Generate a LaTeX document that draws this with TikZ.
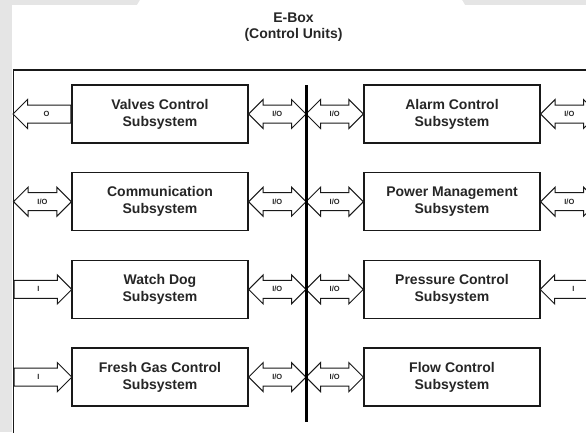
\documentclass[tikz,border=0pt]{standalone}
\usepackage{fontspec}
\setmainfont{Liberation Sans}
\usetikzlibrary{shapes.arrows, positioning, calc}

\tikzset{
        unit/.style={draw=black!90, line width=1.3pt, minimum width=176pt, minimum height=58pt, align=center, text=black!85, font=\bfseries\fontsize{14}{17}\selectfont},
        blk/.style={draw=black!90, line width=1pt, fill=white, text=black!85, inner xsep=0pt, inner ysep=5.5pt, text height=5.5pt, text depth=0.5pt, font=\bfseries\fontsize{7.5}{8}\selectfont},
        io/.style={blk, double arrow, double arrow head extend=5.5pt},
        sig/.style={blk, single arrow, single arrow head extend=5.5pt},
}
\newcommand{\iolink}[3]{%
        \path let \p1=(#1), \p2=(#2), \n1={abs(\x2-\x1)} in
        node[io, minimum height=\n1] at ({0.5*\x1+0.5*\x2},{0.5*\y1+0.5*\y2}) {#3};}
\newcommand{\siglink}[3]{%
        \path let \p1=(#1), \p2=(#2), \n1={abs(\x2-\x1)}, \n2={atan2(\y2-\y1,\x2-\x1)} in
        node[sig, minimum height=\n1, shape border rotate=\n2, anchor=tail] at (\p1) {#3};}

\begin{document}
\begin{tikzpicture}[x=1pt, y=-1pt, node distance=87.7pt, on grid]
        \clip (0,0) rectangle (586,432);
        \fill[gray!20] (0,0) rectangle (586,432);
        \fill[white] (12,5) -- (137,5) -- (140,0) -- (462,0) -- (465,5) -- (586,5) -- (586,432) -- (12,432) -- cycle;
        \node[align=center, text=black!85, font=\bfseries\fontsize{14}{16.5}\selectfont] (title) at (293.5,27) {E-Box\\(Control Units)};
        \coordinate (frame) at (13.5,70);
        \coordinate (edge) at (598,70);
        \coordinate (bustop) at (306,85);
        \coordinate (busend) at (306,422);
        \node[unit] (valves) at (160,114) {Valves Control\\Subsystem};
        \node[unit] (comm) [below=of valves] {Communication\\Subsystem};
        \node[unit] (watchdog) [below=of comm] {Watch Dog\\Subsystem};
        \node[unit] (freshgas) [below=of watchdog] {Fresh Gas Control\\Subsystem};
        \node[unit] (alarm) [right=292pt of valves] {Alarm Control\\Subsystem};
        \node[unit] (power) [below=of alarm] {Power Management\\Subsystem};
        \node[unit] (pressure) [below=of power] {Pressure Control\\Subsystem};
        \node[unit] (flow) [below=of pressure] {Flow Control\\Subsystem};
        \draw[black!90, line width=1.6pt] (13.5,440) -- (frame) -- (edge);
        \siglink{valves.west}{valves.west -| frame}{O}
        \iolink{comm.west -| frame}{comm.west}{I/O}
        \siglink{watchdog.west -| frame}{watchdog.west}{I}
        \siglink{freshgas.west -| frame}{freshgas.west}{I}
        \foreach \b in {valves, comm, watchdog, freshgas} {\iolink{\b.east}{\b.east -| bustop}{I/O}}
        \foreach \b in {alarm, power, pressure, flow} {\iolink{\b.west -| bustop}{\b.west}{I/O}}
        \iolink{alarm.east}{alarm.east -| edge}{I/O}
        \iolink{power.east}{power.east -| edge}{I/O}
        \siglink{pressure.east -| edge}{pressure.east}{I}
        \draw[black, line width=3pt] (bustop) -- (busend);
\end{tikzpicture}
\end{document}
